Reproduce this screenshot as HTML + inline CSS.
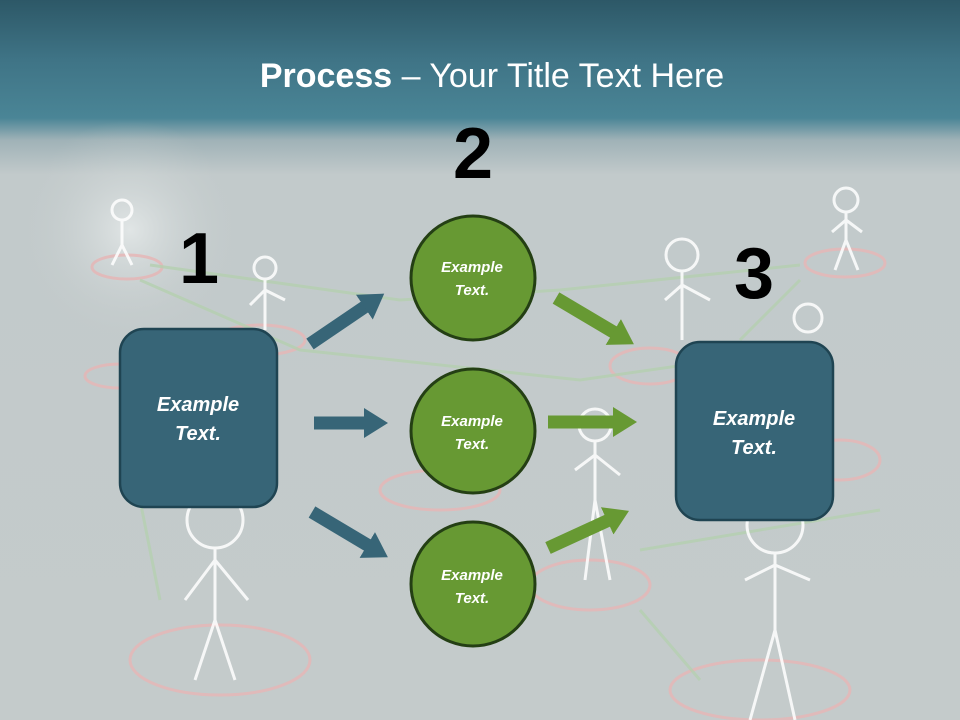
<!DOCTYPE html>
<html><head><meta charset="utf-8"><style>
html,body{margin:0;padding:0;width:960px;height:720px;overflow:hidden}
body{position:relative;font-family:"Liberation Sans",sans-serif;
background:linear-gradient(to bottom,#2d5867 0px,#3f7486 60px,#4a8596 118px,#9fb2b7 140px,#c2cacb 175px,#c4cbcb 720px);}
</style></head><body>
<svg width="960" height="720" style="position:absolute;left:0;top:0">
<defs>
<radialGradient id="glow" cx="0.5" cy="0.5" r="0.5">
<stop offset="0" stop-color="#e8ecec" stop-opacity="0.8"/><stop offset="1" stop-color="#c4cbcb" stop-opacity="0"/>
</radialGradient>
<marker id="hb" markerUnits="userSpaceOnUse" markerWidth="26" markerHeight="30" refX="2" refY="15" orient="auto"><polygon points="0,0 24,15 0,30" fill="#376577"/></marker>
<marker id="hg" markerUnits="userSpaceOnUse" markerWidth="26" markerHeight="30" refX="2" refY="15" orient="auto"><polygon points="0,0 24,15 0,30" fill="#679933"/></marker>
</defs>
<ellipse cx="130" cy="230" rx="110" ry="110" fill="url(#glow)"/>
<g fill="none" stroke="#e7b5b5" stroke-width="3" opacity="0.8">
<ellipse cx="127" cy="267" rx="35" ry="12"/>
<ellipse cx="260" cy="340" rx="45" ry="15"/>
<ellipse cx="120" cy="376" rx="35" ry="12"/>
<ellipse cx="845" cy="263" rx="40" ry="14"/>
<ellipse cx="650" cy="366" rx="40" ry="18"/>
<ellipse cx="840" cy="460" rx="40" ry="20"/>
<ellipse cx="220" cy="660" rx="90" ry="35"/>
<ellipse cx="590" cy="585" rx="60" ry="25"/>
<ellipse cx="760" cy="690" rx="90" ry="30"/>
<ellipse cx="440" cy="490" rx="60" ry="20"/>
</g>
<g fill="none" stroke="#b5d0b0" stroke-width="3" opacity="0.8">
<path d="M150 265 L400 300 L560 290 L800 265"/>
<path d="M140 280 L300 350 L580 380 L720 360"/>
<path d="M160 600 L140 500"/>
<path d="M640 550 L880 510"/>
<path d="M800 280 L740 340"/>
<path d="M640 610 L700 680"/>
</g>
<g fill="none" stroke="#ffffff" stroke-width="3" opacity="0.85">
<circle cx="215" cy="520" r="28"/><path d="M215 548 L215 620 M215 560 L185 600 M215 560 L248 600 M215 620 L195 680 M215 620 L235 680"/>
<circle cx="775" cy="525" r="28"/><path d="M775 553 L775 630 M775 565 L745 580 M775 565 L810 580 M775 630 L750 720 M775 630 L795 720"/>
<circle cx="682" cy="255" r="16"/><path d="M682 271 L682 340 M682 285 L665 300 M682 285 L710 300"/>
<circle cx="846" cy="200" r="12"/><path d="M846 212 L846 240 M846 240 L835 270 M846 240 L858 270 M846 220 L832 232 M846 220 L862 232"/>
<circle cx="122" cy="210" r="10"/><path d="M122 220 L122 245 M122 245 L112 265 M122 245 L132 265"/>
<circle cx="265" cy="268" r="11"/><path d="M265 279 L265 330 M265 290 L250 305 M265 290 L285 300"/>
<circle cx="595" cy="425" r="16"/><path d="M595 441 L595 500 M595 455 L575 470 M595 455 L620 475 M595 500 L585 580 M595 500 L610 580"/>
<circle cx="808" cy="318" r="14"/>
</g>
<line x1="310" y1="344" x2="366" y2="306" stroke="#376577" stroke-width="13" marker-end="url(#hb)"/>
<line x1="314" y1="423" x2="366" y2="423" stroke="#376577" stroke-width="13" marker-end="url(#hb)"/>
<line x1="312" y1="512" x2="369" y2="546" stroke="#376577" stroke-width="13" marker-end="url(#hb)"/>
<line x1="556" y1="298" x2="615" y2="333" stroke="#679933" stroke-width="13" marker-end="url(#hg)"/>
<line x1="548" y1="422" x2="615" y2="422" stroke="#679933" stroke-width="13" marker-end="url(#hg)"/>
<line x1="548" y1="548" x2="609" y2="520" stroke="#679933" stroke-width="13" marker-end="url(#hg)"/>
<rect x="120" y="329" width="157" height="178" rx="24" fill="#376577" stroke="#1f4452" stroke-width="2.5"/>
<rect x="676" y="342" width="157" height="178" rx="24" fill="#376577" stroke="#1f4452" stroke-width="2.5"/>
<circle cx="473" cy="278" r="62" fill="#679933" stroke="#243f14" stroke-width="3"/>
<circle cx="473" cy="431" r="62" fill="#679933" stroke="#243f14" stroke-width="3"/>
<circle cx="473" cy="584" r="62" fill="#679933" stroke="#243f14" stroke-width="3"/>
<g font-family="Liberation Sans, sans-serif" font-style="italic" font-weight="bold" fill="#fff" text-anchor="middle">
<text x="198" y="411" font-size="20">Example</text><text x="198" y="440" font-size="20">Text.</text>
<text x="754" y="425" font-size="20">Example</text><text x="754" y="454" font-size="20">Text.</text>
<text x="472" y="272" font-size="15">Example</text><text x="472" y="295" font-size="15">Text.</text>
<text x="472" y="426" font-size="15">Example</text><text x="472" y="449" font-size="15">Text.</text>
<text x="472" y="580" font-size="15">Example</text><text x="472" y="603" font-size="15">Text.</text>
</g>
<g font-family="Liberation Sans, sans-serif" font-weight="bold" fill="#000" text-anchor="middle" font-size="72">
<text x="199" y="283">1</text>
<text x="473" y="178">2</text>
<text x="754" y="298">3</text>
</g>
<text x="492" y="87" text-anchor="middle" font-family="Liberation Sans, sans-serif" font-size="34" fill="#fff"><tspan font-weight="bold">Process</tspan> – Your Title Text Here</text>
</svg>
</body></html>
